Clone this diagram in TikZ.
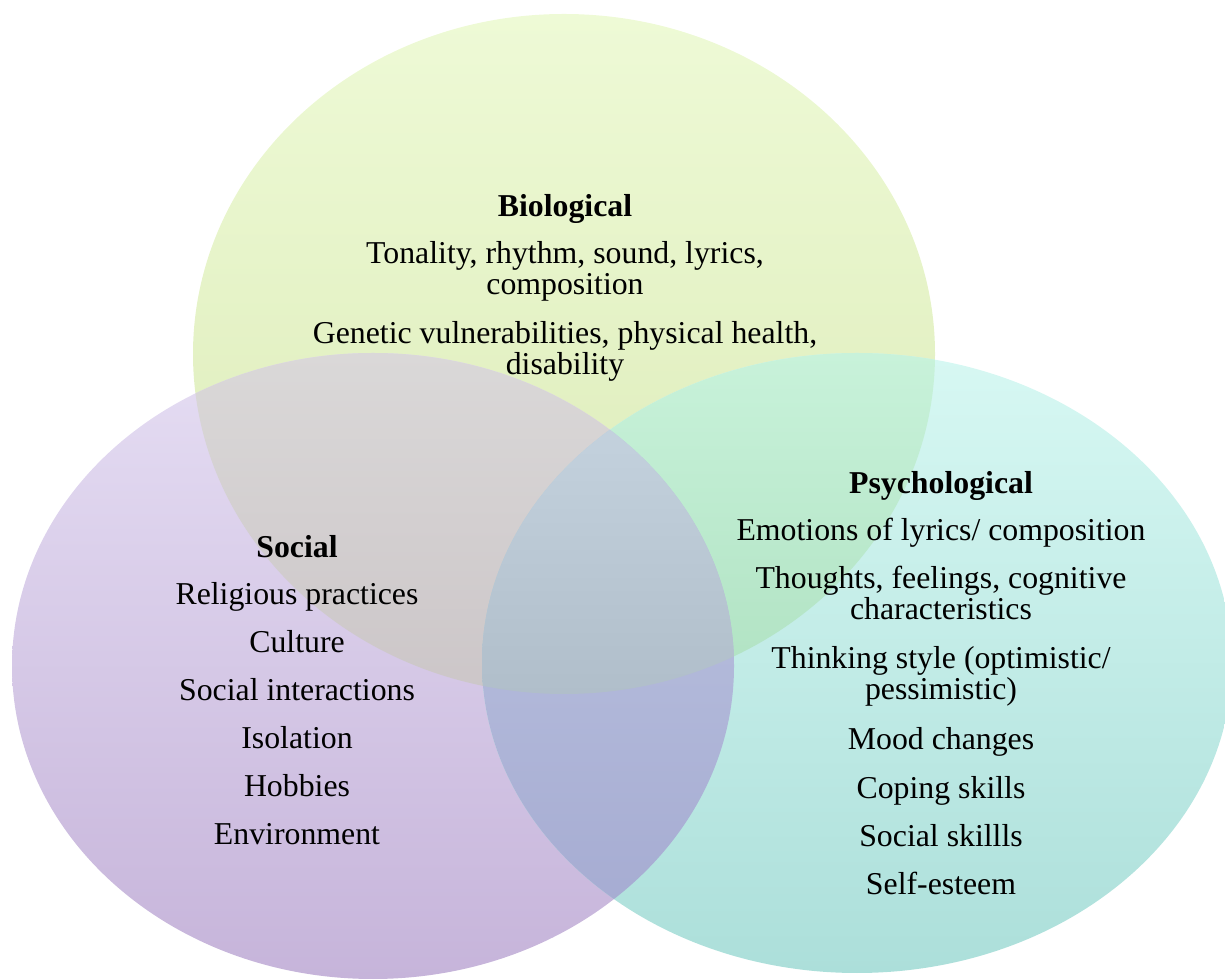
\documentclass[tikz,border=0pt]{standalone}
\usepackage{fontspec}
\setmainfont{Liberation Serif}
\usepackage{tikz}

\begin{document}
\begin{tikzpicture}[x=1pt, y=1pt,
        item/.style={anchor=base, align=center, inner sep=0pt, font=\fontsize{31.8}{31}\selectfont},
        head/.style={item, font=\fontsize{31.8}{31}\selectfont\bfseries}]
            \useasboundingbox (0,0) rectangle (1225,979);
            \clip (0,0) rectangle (1225,979);
            % the three circles
            \def\bio{(564,625) ellipse [x radius=371, y radius=340]}
            \def\soc{(373,313) ellipse [x radius=361, y radius=313]}
            \def\psy{(857,316) ellipse [x radius=375, y radius=310]}
            \shade[top color={rgb,255:red,238;green,250;blue,214}, bottom color={rgb,255:red,218;green,233;blue,180}] \bio;
            \shade[top color={rgb,255:red,229;green,221;blue,243}, bottom color={rgb,255:red,198;green,180;blue,218}] \soc;
            \shade[top color={rgb,255:red,215;green,248;blue,243}, bottom color={rgb,255:red,172;green,223;blue,218}] \psy;
            % overlaps
            \begin{scope}
                  \clip \bio;
                  \begin{scope}
                        \clip \soc;
                        \shade[top color={rgb,255:red,218;green,216;blue,216}, bottom color={rgb,255:red,204;green,198;blue,200}] (0,285) rectangle (1225,626);
                  \end{scope}
                  \begin{scope}
                        \clip \psy;
                        \shade[top color={rgb,255:red,200;green,242;blue,218}, bottom color={rgb,255:red,176;green,226;blue,194}] (0,285) rectangle (1225,626);
                  \end{scope}
            \end{scope}
            \begin{scope}
                  \clip \soc;
                  \clip \psy;
                  \shade[top color={rgb,255:red,190;green,198;blue,226}, bottom color={rgb,255:red,166;green,172;blue,210}] (0,70) rectangle (1225,580);
            \end{scope}
            \begin{scope}
                  \clip \bio;
                  \clip \soc;
                  \clip \psy;
                  \shade[top color={rgb,255:red,196;green,210;blue,222}, bottom color={rgb,255:red,176;green,190;blue,202}] (0,285) rectangle (1225,560);
            \end{scope}
            % biological
            \node[head] (bioHead) at (565,762) {Biological};
            \node[item] (bioA) at (565,684) {Tonality, rhythm, sound, lyrics,\\composition};
            \node[item] (bioB) at (565,604) {Genetic vulnerabilities, physical health,\\disability};
            % social
            \node[head] (socHead) at (297,421) {Social};
            \node[item] (socA) at (297,374) {Religious practices};
            \node[item] (socB) at (297,326) {Culture};
            \node[item] (socC) at (297,278) {Social interactions};
            \node[item] (socD) at (297,230) {Isolation};
            \node[item] (socE) at (297,182) {Hobbies};
            \node[item] (socF) at (297,134) {Environment};
            % psychological
            \node[head] (psyHead) at (941,485) {Psychological};
            \node[item] (psyA) at (941,438) {Emotions of lyrics/ composition};
            \node[item] (psyB) at (941,359) {Thoughts, feelings, cognitive\\characteristics};
            \node[item] (psyC) at (941,279) {Thinking style (optimistic/\\pessimistic)};
            \node[item] (psyD) at (941,229) {Mood changes};
            \node[item] (psyE) at (941,180) {Coping skills};
            \node[item] (psyF) at (941,132) {Social skillls};
            \node[item] (psyG) at (941,84) {Self-esteem};
      \end{tikzpicture}
\end{document}
